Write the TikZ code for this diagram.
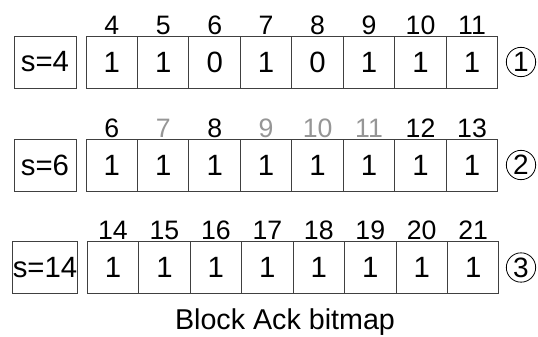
\documentclass[tikz,border=0pt]{standalone}
\usepackage{fontspec}
\setmainfont{Liberation Sans}
\usepackage{xcolor}
\usetikzlibrary{positioning}
\definecolor{linegray}{RGB}{64,64,64}
\definecolor{idxgray}{RGB}{150,150,150}
\tikzset{
  cell/.style={rectangle,draw=linegray,line width=0.75pt,outer sep=0pt,minimum width=38.6pt,minimum height=39pt,inner sep=0pt,font=\fontsize{22}{22}\selectfont},
  seqbox/.style={cell,minimum width=46.5pt},
  idx/.style={anchor=base,inner sep=0pt,yshift=1.5pt,font=\fontsize{20}{20}\selectfont},
  circnum/.style={circle,draw,line width=0.6pt,minimum size=22pt,inner sep=0pt,font=\fontsize{21}{21}\selectfont},
  caption/.style={inner sep=0pt,font=\fontsize{21.5}{21.5}\selectfont}
}
\begin{document}
\begin{tikzpicture}[x=0.75pt,y=-0.75pt,node distance=7.5pt]
\useasboundingbox (0,0) rectangle (538,336);

% row 1
\node[seqbox] (s1) at (45,62) {s=4};
\node[cell, right=of s1] (b1-1) {1};
\foreach \v [count=\i from 2, remember=\i as \j (initially 1)] in {1,0,1,0,1,1,1}
  \node[cell, right=0pt of b1-\j] (b1-\i) {\v};
\foreach \n [count=\i] in {4,5,6,7,8,9,10,11}
  \node[idx] (n1-\i) at (b1-\i.north) {\n};
\node[circnum] (m1) at (521,62) {1};

% row 2
\node[seqbox] (s2) at (45,165) {s=6};
\node[cell, right=of s2] (b2-1) {1};
\foreach \v [count=\i from 2, remember=\i as \j (initially 1)] in {1,1,1,1,1,1,1}
  \node[cell, right=0pt of b2-\j] (b2-\i) {\v};
\foreach \n/\c [count=\i] in {6/black,7/idxgray,8/black,9/idxgray,10/idxgray,11/idxgray,12/black,13/black}
  \node[idx, text=\c] (n2-\i) at (b2-\i.north) {\n};
\node[circnum] (m2) at (521,165) {2};

% row 3
\node[seqbox] (s3) at (45,267.5) {s=14};
\node[cell, right=of s3] (b3-1) {1};
\foreach \v [count=\i from 2, remember=\i as \j (initially 1)] in {1,1,1,1,1,1,1}
  \node[cell, right=0pt of b3-\j] (b3-\i) {\v};
\foreach \n [count=\i] in {14,15,16,17,18,19,20,21}
  \node[idx] (n3-\i) at (b3-\i.north) {\n};
\node[circnum] (m3) at (521,267.5) {3};

\node[caption] (cap) at (285,322) {Block Ack bitmap};
\end{tikzpicture}
\end{document}
